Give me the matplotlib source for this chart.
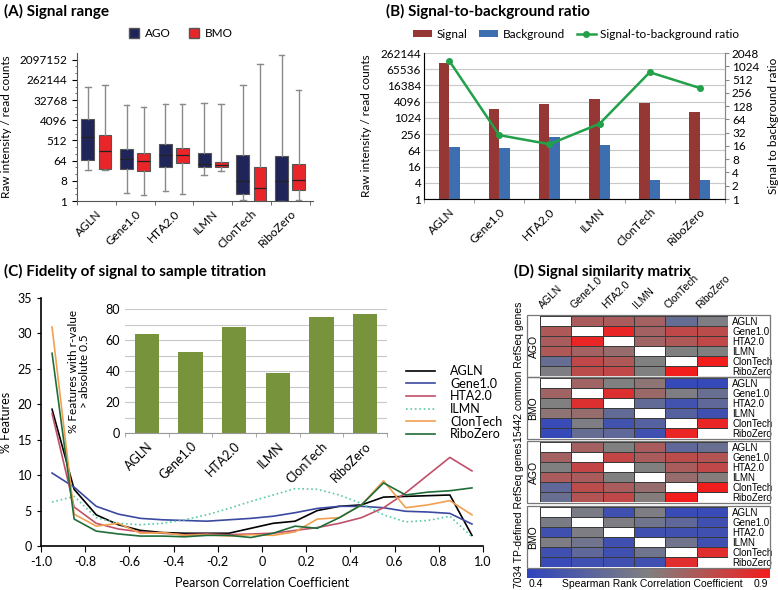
import numpy as np
import matplotlib
matplotlib.use("Agg")
import matplotlib.pyplot as plt
from matplotlib.colors import LinearSegmentedColormap
from matplotlib.patches import Rectangle, Patch

plt.rcParams['font.family'] = ['Lato', 'DejaVu Sans']

W, H = 778, 590

platforms = ['AGLN', 'Gene1.0', 'HTA2.0', 'ILMN', 'ClonTech', 'RiboZero']

# (A) box stats as log2 exponents: (low whisker, q1, median, q3, high whisker)
ago_box = [(4.6, 6.1, 9.5, 12.2, 17.0), (1.24, 4.7, 6.3, 7.8, 14.2),
           (1.54, 5.1, 6.85, 8.4, 14.35), (3.9, 5.1, 5.5, 7.1, 14.55),
           (0.1, 1.1, 2.9, 6.85, 17.2), (0.0, 0.0, 2.9, 6.75, 21.7)]
bmo_box = [(4.6, 4.8, 7.4, 9.8, 17.3), (0.94, 4.5, 6.0, 7.2, 14.0),
           (1.1, 5.6, 6.8, 7.85, 14.4), (4.47, 5.06, 5.4, 5.76, 14.4),
           (0.0, 0.0, 2.0, 5.0, 20.4), (0.1, 1.6, 3.1, 5.5, 16.5)]

# (B) log2 values
signal_log2 = [16.76, 11.12, 11.74, 12.31, 11.86, 10.67]
background_log2 = [6.38, 6.34, 7.66, 6.63, 2.31, 2.31]
ratio_log2 = [10.43, 4.81, 4.13, 5.67, 9.55, 8.36]

# (C) distribution of pearson r
r_bins = [-0.95, -0.85, -0.75, -0.65, -0.55, -0.45, -0.35, -0.25, -0.15, -0.05,
          0.05, 0.15, 0.25, 0.35, 0.45, 0.55, 0.65, 0.75, 0.85, 0.95]
pct_agln = [19.3, 8.0, 4.4, 3.0, 2.2, 1.9, 1.8, 1.8, 1.8, 2.5, 3.2, 3.5, 5.0, 5.6, 5.8, 6.9, 7.0, 7.1, 7.2, 1.5]
pct_gene = [10.3, 8.3, 5.6, 4.5, 3.9, 3.7, 3.6, 3.5, 3.7, 3.9, 4.2, 4.7, 5.3, 5.6, 5.6, 5.4, 4.9, 4.8, 4.6, 3.1]
pct_hta = [18.7, 5.5, 3.2, 2.4, 2.0, 1.8, 1.6, 1.7, 1.6, 1.7, 1.8, 2.2, 2.6, 3.2, 4.0, 5.4, 7.5, 10.0, 12.5, 10.6]
pct_ilmn = [6.2, 7.0, 4.0, 3.2, 3.0, 3.2, 3.7, 4.4, 5.3, 6.3, 7.2, 8.1, 8.0, 7.2, 6.0, 4.4, 3.4, 3.6, 4.2, 1.3]
pct_clon = [30.9, 4.5, 2.8, 3.2, 1.8, 1.9, 1.5, 1.6, 1.4, 1.6, 1.5, 2.0, 3.8, 4.0, 5.8, 9.2, 5.4, 5.8, 6.4, 4.4]
pct_ribo = [27.2, 3.8, 2.1, 1.7, 1.4, 1.4, 1.3, 1.5, 1.5, 1.2, 1.8, 2.8, 2.5, 4.0, 5.8, 8.9, 7.2, 7.6, 7.8, 8.2]
pct_abs05 = [64, 52, 68.5, 38.5, 75, 76.5]

# (D) spearman matrices (nan = diagonal)
n = np.nan
ago_common = [[n, .74, .74, .73, .57, .64],
              [.75, n, .88, .73, .79, .78],
              [.74, .88, n, .72, .75, .79],
              [.75, .73, .70, n, .65, .65],
              [.57, .79, .75, .65, n, .90],
              [.64, .78, .79, .65, .90, n]]
bmo_common = [[n, .72, .65, .68, .42, .42],
              [.72, n, .85, .71, .64, .58],
              [.65, .85, n, .56, .46, .55],
              [.68, .70, .56, n, .52, .45],
              [.43, .64, .46, .52, n, .88],
              [.42, .57, .55, .45, .88, n]]
ago_tp = [[n, .73, .65, .74, .55, .58],
          [.73, n, .80, .74, .78, .76],
          [.65, .80, n, .65, .74, .79],
          [.74, .74, .65, n, .70, .66],
          [.55, .78, .74, .70, n, .90],
          [.58, .76, .79, .66, .90, n]]
bmo_tp = [[n, .63, .45, .64, .43, .43],
          [.63, n, .64, .60, .55, .45],
          [.45, .64, n, .45, .45, .45],
          [.64, .60, .45, n, .60, .45],
          [.45, .55, .45, .60, n, .86],
          [.43, .45, .45, .45, .86, n]]

fig = plt.figure(figsize=(W / 100, H / 100), dpi=100)


def add_px(x0, y0, x1, y1):
    return fig.add_axes([x0 / W, 1 - y1 / H, (x1 - x0) / W, (y1 - y0) / H])


def title(x, y, s):
    fig.text(x / W, 1 - y / H, s, fontsize=11, fontweight='bold', va='center', ha='left')


x = np.arange(len(platforms))
arial = ['Liberation Sans', 'DejaVu Sans']

# ---------------- (A) ----------------
axA = add_px(77, 53, 313, 201)
navy, red = '#1f2559', '#e8262a'
for boxes, off, col in [(ago_box, -0.22, navy), (bmo_box, 0.22, red)]:
    stats = [dict(whislo=2 ** b[0], q1=2 ** b[1], med=2 ** b[2], q3=2 ** b[3], whishi=2 ** b[4])
             for b in boxes]
    axA.bxp(stats, positions=x + off, widths=0.33, showfliers=False, patch_artist=True,
            boxprops=dict(facecolor=col, edgecolor='#555555', linewidth=0.8),
            medianprops=dict(color='#222222', linewidth=0.9),
            whiskerprops=dict(color='#8a8a8a', linewidth=1.0),
            capprops=dict(color='#8a8a8a', linewidth=1.0), capwidths=0.14)
axA.set_yscale('log', base=2)
axA.set_ylim(1, 2 ** 22)
axA.set_xlim(-0.46, 5.59)
yt = [2 ** k for k in range(0, 22, 3)]
axA.set_yticks(yt)
axA.set_yticklabels([str(v) for v in yt], fontsize=8.5)
axA.set_yticks([2 ** k for k in range(22) if k % 3], minor=True)
axA.yaxis.set_minor_formatter(plt.NullFormatter())
axA.tick_params(axis='y', which='minor', length=1.5, color='#555555')
axA.set_xticks(x)
axA.set_xticklabels(platforms, rotation=45, ha='right', rotation_mode='anchor', fontsize=8.5)
axA.set_xticks(np.arange(-0.5, 6, 1), minor=True)
axA.tick_params(axis='x', which='major', length=0, pad=5)
axA.tick_params(axis='x', which='minor', length=3, color='#555555')
for s in ['top', 'right']:
    axA.spines[s].set_visible(False)
for s in ['left', 'bottom']:
    axA.spines[s].set_color('#555555')
axA.set_ylabel('Raw intensity / read counts', fontsize=8.5)
axA.yaxis.set_label_coords(-0.275, 0.5)
axA.legend(handles=[Patch(facecolor=navy, edgecolor='#555555', label='AGO'),
                    Patch(facecolor=red, edgecolor='#555555', label='BMO')],
           loc='center', bbox_to_anchor=(0.44, 1.13), ncol=2, frameon=False, fontsize=8.5,
           handlelength=0.9, handleheight=0.9, columnspacing=1.5, handletextpad=0.5)
title(4, 11, '(A) Signal range')

# ---------------- (B) ----------------
axB = add_px(424, 53, 725, 199)
sig_c, bg_c, rat_c = '#953735', '#3d6fb0', '#22a04a'
axB.bar(x - 0.105, [2 ** v for v in signal_log2], width=0.21, color=sig_c, label='Signal', zorder=2)
axB.bar(x + 0.105, [2 ** v for v in background_log2], width=0.21, color=bg_c, label='Background', zorder=2)
axB.set_yscale('log', base=2)
axB.set_ylim(1, 2 ** 18)
ytb = [4 ** k for k in range(10)]
axB.set_yticks(ytb)
axB.set_yticklabels([str(v) for v in ytb], fontsize=8.5)
axB.yaxis.set_minor_locator(plt.NullLocator())
axB.yaxis.grid(True, color='#c8c8c8', linewidth=0.8)
axB.set_axisbelow(True)
axB.set_xlim(-0.5, 5.5)
axB.set_xticks(x)
axB.set_xticklabels(platforms, rotation=45, ha='right', rotation_mode='anchor', fontsize=8.5)
axB.set_xticks(np.arange(-0.5, 6, 1), minor=True)
axB.tick_params(axis='x', which='major', length=0, pad=5)
axB.tick_params(axis='x', which='minor', length=3, color='#888888')
axB.tick_params(axis='y', length=0, pad=2)
axB.spines['top'].set_visible(False)
for s in ['left', 'bottom', 'right']:
    axB.spines[s].set_color('#888888')
axB.set_ylabel('Raw intensity / read counts', fontsize=8.5)
axB.yaxis.set_label_coords(-0.173, 0.5)

axB2 = axB.twinx()
axB2.plot(x, [2 ** v for v in ratio_log2], color=rat_c, lw=1.8, marker='o', markersize=4,
          label='Signal-to-background ratio')
axB2.set_yscale('log', base=2)
axB2.set_ylim(1, 2 ** 11)
yt2 = [2 ** k for k in range(12)]
axB2.set_yticks(yt2)
axB2.set_yticklabels([str(v) for v in yt2], fontsize=8.5)
axB2.yaxis.set_minor_locator(plt.NullLocator())
axB2.tick_params(axis='y', length=3, color='#888888', pad=2)
axB2.spines['top'].set_visible(False)
axB2.spines['right'].set_color('#888888')
axB2.set_ylabel('Signal to background ratio', fontsize=8.5)
axB2.yaxis.set_label_coords(1.143, 0.5)
h1, l1 = axB.get_legend_handles_labels()
h2, l2 = axB2.get_legend_handles_labels()
axB.legend(h1 + h2, l1 + l2, loc='center', bbox_to_anchor=(0.505, 1.13), ncol=3, frameon=False,
           fontsize=8.5, handlelength=1.6, handleheight=0.5, columnspacing=1.0, handletextpad=0.4)
title(386, 11, '(B) Signal-to-background ratio')

# ---------------- (C) ----------------
axC = add_px(41, 298, 483, 546)
series = [('AGLN', pct_agln, '#000000', '-'), ('Gene1.0', pct_gene, '#3b4aa0', '-'),
          ('HTA2.0', pct_hta, '#c0506a', '-'), ('ILMN', pct_ilmn, '#5cc8a8', ':'),
          ('ClonTech', pct_clon, '#f0a050', '-'), ('RiboZero', pct_ribo, '#1f6e3a', '-')]
for name, vals, col, ls in series:
    axC.plot(r_bins, vals, color=col, ls=ls, lw=1.2, label=name)
axC.set_xlim(-1, 1)
axC.set_ylim(0, 35)
xt = np.round(np.arange(-1.0, 1.01, 0.2), 1)
axC.set_xticks(xt)
axC.set_xticklabels(['0' if abs(v) < 1e-9 else f'{v:.1f}' for v in xt], fontsize=9)
axC.set_yticks(range(0, 36, 5))
axC.tick_params(axis='y', labelsize=9, length=3)
axC.tick_params(axis='x', length=4)
for s in ['top', 'right']:
    axC.spines[s].set_visible(False)
for s in ['left', 'bottom']:
    axC.spines[s].set_linewidth(1.2)
axC.set_ylabel('% Features', fontsize=9)
axC.yaxis.set_label_coords(-0.065, 0.5)
axC.set_xlabel('Pearson Correlation Coefficient', fontsize=9)
axC.xaxis.set_label_coords(0.5, -0.125)
axC.legend(loc='upper left', bbox_to_anchor=(0.815, 0.75), frameon=False, fontsize=9,
           handlelength=2.3, labelspacing=0.05, handletextpad=1.2, borderaxespad=0)

axI = add_px(125, 309, 387, 433)
axI.bar(x, pct_abs05, width=0.55, color='#77933c', zorder=2)
axI.set_xlim(-0.5, 5.5)
axI.set_ylim(0, 80)
axI.set_yticks(range(0, 81, 20))
axI.set_yticks(range(10, 80, 20), minor=True)
axI.yaxis.grid(True, which='both', color='#c8c8c8', linewidth=0.8)
axI.set_axisbelow(True)
axI.tick_params(axis='y', which='both', length=0, labelsize=9)
axI.set_xticks(x)
axI.set_xticklabels(platforms, rotation=45, ha='right', rotation_mode='anchor', fontsize=9)
axI.set_xticks(np.arange(-0.5, 6, 1), minor=True)
axI.tick_params(axis='x', which='major', length=0, pad=5)
axI.tick_params(axis='x', which='minor', length=3, color='#999999')
for s in ['top', 'right', 'left']:
    axI.spines[s].set_visible(False)
axI.spines['bottom'].set_color('#999999')
axI.set_ylabel('% Features with r-value\n> absolute 0.5', fontsize=8.5, linespacing=1.0)
axI.yaxis.set_label_coords(-0.135, 0.5)
title(4, 271, '(C) Fidelity of signal to sample titration')

# ---------------- (D) ----------------
cmap = LinearSegmentedColormap.from_list('bgr', ['#2f44bd', '#808080', '#f21d1d'])
blocks = [(ago_common, 'AGO', 316, 376), (bmo_common, 'BMO', 378, 438),
          (ago_tp, 'AGO', 442, 502), (bmo_tp, 'BMO', 507, 567)]
mesh = None
for k, (mat, grp, y0, y1) in enumerate(blocks):
    ax = add_px(540, y0, 728, y1)
    arr = np.ma.masked_invalid(np.array(mat, dtype=float))
    mesh = ax.pcolormesh(arr, cmap=cmap, vmin=0.4, vmax=0.9, edgecolors='#3a3a3a', linewidth=0.4)
    ax.set_xlim(0, 6)
    ax.set_ylim(6, 0)
    for s in ax.spines.values():
        s.set_visible(False)
    ax.set_xticks([])
    ax.yaxis.tick_right()
    ax.set_yticks(np.arange(6) + 0.5)
    ax.set_yticklabels(platforms, fontsize=7, family=arial)
    ax.tick_params(axis='y', length=0, pad=3)
    fig.add_artist(Rectangle((527 / W, 1 - (y1 + 1) / H), (770 - 527) / W, (y1 - y0 + 2) / H,
                             transform=fig.transFigure, fill=False, edgecolor='#777777', lw=0.9))
    fig.text(533.5 / W, 1 - (y0 + y1) / 2 / H, grp, rotation=90, fontsize=7.5, family=arial,
             ha='center', va='center')
    if k == 0:
        for j, name in enumerate(platforms):
            ax.text(j + 0.15, -0.6, name, rotation=45, ha='left', va='bottom',
                    rotation_mode='anchor', fontsize=7.5, family=arial)
fig.text(519 / W, 1 - 372 / H, '15442 common RefSeq genes', rotation=90, fontsize=7.5,
         family=arial, ha='center', va='center')
fig.text(519 / W, 1 - 515 / H, '7034 TP-defined RefSeq genes', rotation=90, fontsize=7.5,
         family=arial, ha='center', va='center')
cax = add_px(527, 569, 770, 578)
cb = fig.colorbar(mesh, cax=cax, orientation='horizontal')
cb.set_ticks([])
cb.outline.set_visible(False)
fig.text(529 / W, 1 - 584 / H, '0.4', fontsize=7.5, family=arial, ha='left', va='center')
fig.text(768 / W, 1 - 584 / H, '0.9', fontsize=7.5, family=arial, ha='right', va='center')
fig.text(652 / W, 1 - 584 / H, 'Spearman Rank Correlation Coefficient', fontsize=7.5,
         family=arial, ha='center', va='center')
title(514, 271, '(D) Signal similarity matrix')

fig.savefig('out.png', dpi=100)
